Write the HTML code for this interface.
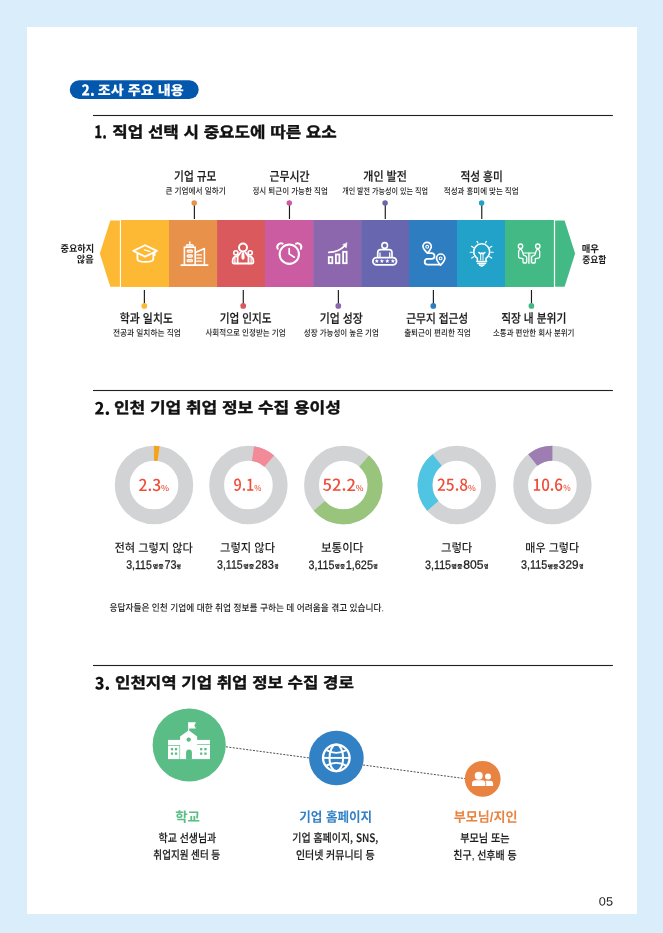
<!DOCTYPE html>
<html lang="ko"><head><meta charset="utf-8"><title>2. 조사 주요 내용</title>
<style>
html,body{margin:0;padding:0;background:#d9edfa}
#pg{position:relative;width:663px;height:933px;overflow:hidden;background:#d9edfa}
#pg svg{position:absolute;left:0;top:0;display:block}
.t{position:absolute;left:0;top:0;white-space:nowrap;transform-origin:0 0;letter-spacing:0}
.k{font-family:"Liberation Sans","Noto Sans CJK KR",sans-serif}
.n{font-family:"Noto Sans CJK KR",sans-serif}
</style></head><body><div id="pg">
<svg width="663" height="933" viewBox="0 0 663 933">
<rect x="0" y="0" width="663" height="933" fill="#d9edfa"/>
<rect x="27" y="27" width="610" height="887" fill="#ffffff"/>
<rect x="69.8" y="80.3" width="128.9" height="18.75" rx="9.375" fill="#0358ae"/>
<rect x="93" y="114.95" width="519.9" height="1.1" fill="#231f20"/>
<rect x="93" y="389.95" width="519.9" height="1.1" fill="#231f20"/>
<rect x="93" y="664.95" width="519.9" height="1.1" fill="#231f20"/>
<rect x="121.00" y="220.0" width="48.30" height="67.00" fill="#fdb933"/>
<rect x="169.00" y="220.0" width="48.35" height="67.00" fill="#e8914a"/>
<rect x="217.05" y="220.0" width="48.25" height="67.00" fill="#da595c"/>
<rect x="265.00" y="220.0" width="48.40" height="67.00" fill="#cb5ca1"/>
<rect x="313.10" y="220.0" width="48.30" height="67.00" fill="#8d67ad"/>
<rect x="361.10" y="220.0" width="48.20" height="67.00" fill="#6766ae"/>
<rect x="409.00" y="220.0" width="48.30" height="67.00" fill="#2d7dc0"/>
<rect x="457.00" y="220.0" width="48.30" height="67.00" fill="#22a2c9"/>
<rect x="505.00" y="220.0" width="48.90" height="67.00" fill="#43ba85"/>
<polygon points="119.9,220.4 110.3,220.4 99.8,253.5 110.3,286.7 119.9,286.7" fill="#fdb933"/>
<polygon points="555.1,220.4 564.6,220.4 575.1,253.5 564.6,286.7 555.1,286.7" fill="#43ba85"/>
<rect x="193.80" y="204" width="1.15" height="15" fill="#1a1a1a"/><circle cx="194.20" cy="203.0" r="2.75" fill="#e8914a"/>
<rect x="288.90" y="204" width="1.15" height="15" fill="#1a1a1a"/><circle cx="289.30" cy="203.0" r="2.75" fill="#cb5ca1"/>
<rect x="384.70" y="204" width="1.15" height="15" fill="#1a1a1a"/><circle cx="385.10" cy="203.0" r="2.75" fill="#6766ae"/>
<rect x="481.20" y="204" width="1.15" height="15" fill="#1a1a1a"/><circle cx="481.60" cy="203.0" r="2.75" fill="#22a2c9"/>
<rect x="143.80" y="290" width="1.15" height="14.5" fill="#1a1a1a"/><circle cx="144.3" cy="305.9" r="2.85" fill="#fdb933"/>
<rect x="242.70" y="290" width="1.15" height="14.5" fill="#1a1a1a"/><circle cx="243.2" cy="305.9" r="2.85" fill="#da595c"/>
<rect x="337.80" y="290" width="1.15" height="14.5" fill="#1a1a1a"/><circle cx="338.3" cy="305.9" r="2.85" fill="#8d67ad"/>
<rect x="432.80" y="290" width="1.15" height="14.5" fill="#1a1a1a"/><circle cx="433.3" cy="305.9" r="2.85" fill="#2d7dc0"/>
<rect x="530.90" y="290" width="1.15" height="14.5" fill="#1a1a1a"/><circle cx="531.4" cy="305.9" r="2.85" fill="#43ba85"/>
<g fill="none" stroke="#fff" stroke-width="1.8" stroke-linecap="round" stroke-linejoin="round">
<!-- 1 graduation cap -->
<path d="M145.1 245.2 L156.9 250.9 L145.1 256.6 L133.3 250.9 Z" stroke-width="1.8"/>
<path d="M137.4 253.6 V259 Q137.4 261.9 145.3 261.9 Q153.3 261.9 153.3 259 V253.6" stroke-width="1.8"/>
<path d="M144.4 249.8 L149.8 251.4" stroke-width="1.3"/>
<path d="M154.7 252.3 V255.6" stroke-width="1.5"/>
<!-- 2 building -->
<path d="M181.2 265.1 H207.7" stroke-width="1.7"/>
<path d="M184.4 264.6 V247.2 H195.2 V264.6" stroke-width="1.6" stroke-linejoin="miter"/>
<path d="M186.2 246.6 V245.4 Q186.2 244.6 187 244.6 H192.6 Q193.4 244.6 193.4 245.4 V246.6 Z" fill="#fff" fill-opacity="0.75" stroke-width="0.9"/>
<path d="M189.8 242 V244.6" stroke-width="1.5"/>
<path d="M196 252.3 L204.4 248.5 V264.6" stroke-width="1.5"/>
<g stroke-width="1.1" fill="#fff" fill-opacity="0.55"><rect x="187.1" y="250.1" width="5.4" height="2.2" rx="1.1"/><rect x="187.1" y="254.9" width="5.4" height="2.2" rx="1.1"/><rect x="187.1" y="259.6" width="5.4" height="2.2" rx="1.1"/></g>
<path d="M196.8 254.9 H201.4 M196.8 258.1 H201.4 M196.8 261.2 H201.4" stroke-width="1.3"/>
<!-- 3 people -->
<circle cx="243" cy="247.5" r="4" stroke-width="2"/>
<path d="M237.6 263.4 V256.6 L240.5 252.5 M245.5 252.5 L248.5 256.6 V263.4" stroke-width="1.8"/>
<path d="M242.1 252.4 H243.9 L244.5 258.1 L243 259.9 L241.5 258.1 Z" fill="#fff" stroke-width="0.4"/>
<circle cx="235.8" cy="252.8" r="2.1" stroke-width="1.6"/>
<circle cx="250.2" cy="252.8" r="2.1" stroke-width="1.6"/>
<path d="M237.2 256.2 Q232.6 256.6 232.6 261.4 V262.3 Q232.6 263.5 233.8 263.5 H252.2 Q253.4 263.5 253.4 262.3 V261.4 Q253.4 256.6 248.8 256.2" stroke-width="1.8"/>
<path d="M234.9 258.2 V263.2 M251.1 258.2 V263.2" stroke-width="1.2"/>
<!-- 4 clock -->
<circle cx="289.3" cy="254.2" r="9.65" stroke-width="2.1"/>
<path d="M289.2 248.5 V253.9 L294.3 257.2" stroke-width="1.7"/>
<path d="M277.7 248.8 A3.8 3.8 0 0 1 282.6 243.6" stroke-width="2"/>
<path d="M300.9 248.8 A3.8 3.8 0 0 0 296 243.6" stroke-width="2"/>
<!-- 5 chart -->
<g stroke-width="1.8" stroke-linejoin="miter">
<rect x="328.8" y="257.1" width="3.5" height="6.1"/>
<rect x="335.9" y="254.5" width="3.5" height="8.7"/>
<rect x="343.1" y="251.8" width="3.5" height="11.4"/>
</g>
<path d="M328.8 252.4 Q339 251.8 344.6 245.8" stroke-width="1.8"/>
<path d="M347 242.9 L346.3 247.9 L342.9 244.8 Z" fill="#fff" stroke-width="0.5"/>
<!-- 6 person with stars -->
<circle cx="384.7" cy="245.4" r="2.8" stroke-width="1.6"/>
<path d="M377.7 256.6 V252.7 Q377.7 249.7 380.7 249.7 H389 Q392 249.7 392 252.7 V256.6" stroke-width="1.7"/>
<path d="M380 253 V256.6 M389.7 253 V256.6" stroke-width="1.3"/>
<rect x="372.9" y="257.6" width="23.6" height="7.2" rx="3.6" stroke-width="1.8"/>
<g fill="#fff" stroke="none">
<path d="M376.8 258.9 L377.4 260.3 L378.9 260.4 L377.7 261.4 L378.1 262.9 L376.8 262.1 L375.5 262.9 L375.9 261.4 L374.7 260.4 L376.2 260.3 Z"/>
<path d="M381.9 258.9 L382.5 260.3 L384.0 260.4 L382.8 261.4 L383.2 262.9 L381.9 262.1 L380.6 262.9 L381.0 261.4 L379.8 260.4 L381.3 260.3 Z"/>
<path d="M387.3 258.9 L387.9 260.3 L389.4 260.4 L388.2 261.4 L388.6 262.9 L387.3 262.1 L386.0 262.9 L386.4 261.4 L385.2 260.4 L386.7 260.3 Z"/>
<path d="M392.9 258.9 L393.5 260.3 L395.0 260.4 L393.8 261.4 L394.2 262.9 L392.9 262.1 L391.6 262.9 L392.0 261.4 L390.8 260.4 L392.3 260.3 Z"/>
</g>
<!-- 7 route -->
<path d="M427.4 253.2 C425 250.4 422.9 248.9 422.9 246.6 A4.2 4.2 0 0 1 431.3 246.6 C431.3 248.9 429.8 250.4 427.4 253.2 Z" stroke-width="1.7"/>
<circle cx="427.2" cy="246.8" r="1.4" stroke-width="1.1"/>
<path d="M440.6 265.2 C438.2 262.4 436.5 260.5 436.5 258.2 A4.2 4.2 0 0 1 444.9 258.2 C444.9 260.5 443 262.4 440.6 265.2 Z" stroke-width="1.7"/>
<circle cx="440.6" cy="258.4" r="1.4" stroke-width="1.1"/>
<path d="M428 253.1 H431.6 A2.9 2.9 0 0 1 431.6 258.9 H427.6 A2.9 2.9 0 0 0 427.6 264.7 H439.8" stroke-width="1.8"/>
<!-- 8 bulb -->
<path d="M477.4 260.5 V258.3 A7.9 7.9 0 1 1 486 258.3 V260.5" stroke-width="1.6"/>
<path d="M476.8 261.5 H486.6 M477.8 263.6 H485.6" stroke-width="1.5"/>
<path d="M479.2 265.2 Q481.7 267.6 484.2 265.2 Z" fill="#fff" stroke-width="1"/>
<path d="M480.7 260 V253.8 M483 260 V253.8" stroke-width="1"/>
<path d="M478.8 252.4 L480.6 253.9 L481.8 252.9 L483.1 253.9 L484.9 252.4" stroke-width="1.4"/>
<path d="M477 241.4 L477.9 243 M486.4 241.4 L485.5 243 M471.5 246.3 L473.5 247.6 M491.9 246.3 L489.9 247.6 M470.2 252.2 H472.4 M493.2 252.2 H491 M471.7 258.1 L473.8 256.7 M491.7 258.1 L489.6 256.7" stroke-width="1.15"/>
<!-- 9 meeting -->
<circle cx="520.5" cy="246.2" r="2.2" stroke-width="1.3"/>
<circle cx="537.8" cy="246.2" r="2.2" stroke-width="1.3"/>
<path d="M520.2 249.4 Q518.6 250 518.6 251.8 V256.8 Q518.6 257.9 519.8 258.1 L523 258.7 V262 Q523 263 524 263 H525.7 Q526.7 263 526.7 262 V257.6 Q526.7 256.6 525.8 256.2 L523.5 255 L521.9 250.4 Q521.4 249.2 520.2 249.4 Z" stroke-width="1.3"/>
<path d="M538.1 249.4 Q539.7 250 539.7 251.8 V256.8 Q539.7 257.9 538.5 258.1 L535.3 258.7 V262 Q535.3 263 534.3 263 H532.6 Q531.6 263 531.6 262 V257.6 Q531.6 256.6 532.5 256.2 L534.8 255 L536.4 250.4 Q536.9 249.2 538.1 249.4 Z" stroke-width="1.3"/>
<path d="M523.6 253 H534.7" stroke-width="1.1"/>
<path d="M528.5 253.2 V263.4 M529.8 253.2 V263.4" stroke-width="0.8"/>
</g>

<circle cx="154.0" cy="485.0" r="31.775000000000002" fill="none" stroke="#d1d3d4" stroke-width="14.850000000000001"/>
<path d="M154.00 453.23 A31.775000000000002 31.775000000000002 0 0 1 158.58 453.56" fill="none" stroke="#f7a21b" stroke-width="14.850000000000001"/>
<circle cx="248.4" cy="485.0" r="31.775000000000002" fill="none" stroke="#d1d3d4" stroke-width="14.850000000000001"/>
<path d="M252.98 453.56 A31.775000000000002 31.775000000000002 0 0 1 269.26 461.03" fill="none" stroke="#f38a98" stroke-width="14.850000000000001"/>
<circle cx="343.3" cy="485.0" r="31.775000000000002" fill="none" stroke="#d1d3d4" stroke-width="14.850000000000001"/>
<path d="M364.16 461.03 A31.775000000000002 31.775000000000002 0 1 1 319.33 505.86" fill="none" stroke="#99c47c" stroke-width="14.850000000000001"/>
<circle cx="456.8" cy="485.0" r="31.775000000000002" fill="none" stroke="#d1d3d4" stroke-width="14.850000000000001"/>
<path d="M432.83 505.86 A31.775000000000002 31.775000000000002 0 0 1 437.17 460.02" fill="none" stroke="#4fc5e3" stroke-width="14.850000000000001"/>
<circle cx="552.4" cy="485.0" r="31.775000000000002" fill="none" stroke="#d1d3d4" stroke-width="14.850000000000001"/>
<path d="M532.77 460.02 A31.775000000000002 31.775000000000002 0 0 1 552.40 453.23" fill="none" stroke="#9e7db2" stroke-width="14.850000000000001"/>
<line x1="226" y1="746.8" x2="309" y2="757.9" stroke="#222" stroke-width="0.8" stroke-dasharray="2 1.4"/>
<line x1="363.1" y1="765" x2="465" y2="778.6" stroke="#222" stroke-width="0.8" stroke-dasharray="2 1.4"/>
<circle cx="189.2" cy="745.0" r="36.6" fill="#5abd86"/>
<circle cx="336.4" cy="758.0" r="27.3" fill="#3381c5"/>
<circle cx="482.7" cy="778.9" r="17.9" fill="#e98341"/>
<g fill="#fff">
<!-- school -->
<rect x="168" y="739.9" width="42" height="19.2"/>
<path d="M180.1 759.1 V736.4 L188.7 730.3 L197.1 736.4 V759.1 Z"/>
<rect x="188.2" y="722.2" width="1" height="9"/>
<path d="M188.6 722.2 H196 L194.3 725.4 L196 728.6 H188.6 Z"/>
<g fill="#5abd86">
<circle cx="188.7" cy="739.6" r="2.2"/>
<path d="M186.1 759.2 V752.4 A2.9 2.9 0 0 1 191.9 752.4 V759.2 Z"/>
<rect x="168" y="745" width="12" height="0.7"/>
<rect x="197.1" y="744.2" width="13" height="0.7"/>
<rect x="179.5" y="745" width="0.6" height="14.2"/>
<rect x="170.9" y="748" width="2.2" height="2.3"/><rect x="174.9" y="748" width="2.3" height="2.3"/>
<rect x="170.9" y="752.5" width="2.2" height="2.3"/><rect x="174.9" y="752.5" width="2.3" height="2.3"/>
<rect x="200.1" y="748" width="2.2" height="2.3"/><rect x="204.3" y="748" width="2.3" height="2.3"/>
<rect x="200.1" y="752.5" width="2.2" height="2.3"/><rect x="204.3" y="752.5" width="2.3" height="2.3"/>
</g>
<!-- parents -->
<circle cx="478.7" cy="775.8" r="4"/>
<path d="M472 785.9 V783.6 Q472 780.2 475.6 780.2 H481.9 Q485.4 780.2 485.4 783.6 V785.9 Z"/>
<circle cx="488" cy="776.4" r="3"/>
<path d="M486.2 785.9 V783.2 Q486.1 781.6 485.2 780.8 H490.2 Q493.1 780.8 493.1 783.8 V785.9 Z"/>
</g>
<!-- globe -->
<g fill="none" stroke="#fff">
<circle cx="336.3" cy="757.9" r="13.3" stroke-width="2.3"/>
<ellipse cx="336.3" cy="757.9" rx="6.8" ry="13.3" stroke-width="2"/>
<path d="M323 757.9 H349.6" stroke-width="1.9"/>
<path d="M326.4 750.2 Q336.3 755.6 346.2 750.2" stroke-width="1.9"/>
<path d="M326.4 765.6 Q336.3 760.2 346.2 765.6" stroke-width="1.9"/>
</g>

</svg>
<div class="t n" style="font-weight:900;font-size:14.80px;line-height:14.80px;color:#fff;transform:translate(81.54px,82.46px) scaleX(0.9298) rotate(0.04deg)">2.</div>
<div class="t k" style="font-weight:900;font-size:13.30px;line-height:13.30px;color:#fff;transform:translate(97.88px,83.90px) scaleX(1.0618) rotate(0.04deg)">조사 주요 내용</div>
<div class="t n" style="font-weight:900;font-size:17.60px;line-height:17.60px;color:#111;transform:translate(94.32px,122.36px) scaleX(0.7479) rotate(0.04deg)">1.</div>
<div class="t k" style="font-weight:700;font-size:15.50px;line-height:15.50px;color:#111;-webkit-text-stroke:0.40px #111;transform:translate(112.32px,124.60px) scaleX(1.0844) rotate(0.04deg)">직업 선택 시 중요도에 따른 요소</div>
<div class="t n" style="font-weight:900;font-size:16.80px;line-height:16.80px;color:#111;transform:translate(94.61px,399.44px) scaleX(0.9738) rotate(0.04deg)">2.</div>
<div class="t k" style="font-weight:700;font-size:15.50px;line-height:15.50px;color:#111;-webkit-text-stroke:0.40px #111;transform:translate(113.95px,400.14px) scaleX(1.0965) rotate(0.04deg)">인천 기업 취업 정보 수집 용이성</div>
<div class="t n" style="font-weight:900;font-size:16.80px;line-height:16.80px;color:#111;transform:translate(94.81px,674.53px) scaleX(0.9608) rotate(0.04deg)">3.</div>
<div class="t k" style="font-weight:700;font-size:15.50px;line-height:15.50px;color:#111;-webkit-text-stroke:0.40px #111;transform:translate(115.04px,675.16px) scaleX(1.0795) rotate(0.04deg)">인천지역 기업 취업 정보 수집 경로</div>
<div class="t k" style="font-weight:700;font-size:9.80px;line-height:9.80px;color:#1d1d1f;transform:translate(60.53px,243.89px) scaleX(0.9341) rotate(0.04deg)">중요하지</div>
<div class="t k" style="font-weight:700;font-size:9.80px;line-height:9.80px;color:#1d1d1f;transform:translate(76.71px,254.83px) scaleX(0.9356) rotate(0.04deg)">않음</div>
<div class="t k" style="font-weight:700;font-size:9.80px;line-height:9.80px;color:#1d1d1f;transform:translate(581.71px,244.27px) scaleX(0.9543) rotate(0.04deg)">매우</div>
<div class="t k" style="font-weight:700;font-size:9.80px;line-height:9.80px;color:#1d1d1f;transform:translate(582.14px,255.21px) scaleX(0.8926) rotate(0.04deg)">중요함</div>
<div class="t k" style="font-weight:500;font-size:12.50px;line-height:12.50px;color:#1d1d1f;-webkit-text-stroke:0.20px #1d1d1f;transform:translate(174.11px,170.82px) scaleX(0.8553) rotate(0.04deg)">기업 규모</div>
<div class="t k" style="font-weight:500;font-size:8.60px;line-height:8.60px;color:#1d1d1f;transform:translate(165.49px,186.97px) scaleX(0.8839) rotate(0.04deg)">큰 기업에서 일하기</div>
<div class="t k" style="font-weight:500;font-size:12.50px;line-height:12.50px;color:#1d1d1f;-webkit-text-stroke:0.20px #1d1d1f;transform:translate(269.51px,170.86px) scaleX(0.8701) rotate(0.04deg)">근무시간</div>
<div class="t k" style="font-weight:500;font-size:8.60px;line-height:8.60px;color:#1d1d1f;transform:translate(252.43px,187.11px) scaleX(0.8749) rotate(0.04deg)">정시 퇴근이 가능한 직업</div>
<div class="t k" style="font-weight:500;font-size:12.50px;line-height:12.50px;color:#1d1d1f;-webkit-text-stroke:0.20px #1d1d1f;transform:translate(363.25px,170.78px) scaleX(0.8832) rotate(0.04deg)">개인 발전</div>
<div class="t k" style="font-weight:500;font-size:8.60px;line-height:8.60px;color:#1d1d1f;transform:translate(342.15px,187.11px) scaleX(0.8218) rotate(0.04deg)">개인 발전 가능성이 있는 직업</div>
<div class="t k" style="font-weight:500;font-size:12.50px;line-height:12.50px;color:#1d1d1f;-webkit-text-stroke:0.20px #1d1d1f;transform:translate(460.51px,170.88px) scaleX(0.8533) rotate(0.04deg)">적성 흥미</div>
<div class="t k" style="font-weight:500;font-size:8.60px;line-height:8.60px;color:#1d1d1f;transform:translate(443.85px,187.16px) scaleX(0.8659) rotate(0.04deg)">적성과 흥미에 맞는 직업</div>
<div class="t k" style="font-weight:500;font-size:12.50px;line-height:12.50px;color:#1d1d1f;-webkit-text-stroke:0.20px #1d1d1f;transform:translate(119.82px,312.86px) scaleX(0.8709) rotate(0.04deg)">학과 일치도</div>
<div class="t k" style="font-weight:500;font-size:8.60px;line-height:8.60px;color:#1d1d1f;transform:translate(112.88px,329.00px) scaleX(0.8950) rotate(0.04deg)">전공과 일치하는 직업</div>
<div class="t k" style="font-weight:500;font-size:12.50px;line-height:12.50px;color:#1d1d1f;-webkit-text-stroke:0.20px #1d1d1f;transform:translate(219.66px,312.84px) scaleX(0.8500) rotate(0.04deg)">기업 인지도</div>
<div class="t k" style="font-weight:500;font-size:8.60px;line-height:8.60px;color:#1d1d1f;transform:translate(205.40px,328.84px) scaleX(0.8745) rotate(0.04deg)">사회적으로 인정받는 기업</div>
<div class="t k" style="font-weight:500;font-size:12.50px;line-height:12.50px;color:#1d1d1f;-webkit-text-stroke:0.20px #1d1d1f;transform:translate(319.64px,312.87px) scaleX(0.8722) rotate(0.04deg)">기업 성장</div>
<div class="t k" style="font-weight:500;font-size:8.60px;line-height:8.60px;color:#1d1d1f;transform:translate(303.78px,328.99px) scaleX(0.8711) rotate(0.04deg)">성장 가능성이 높은 기업</div>
<div class="t k" style="font-weight:500;font-size:12.50px;line-height:12.50px;color:#1d1d1f;-webkit-text-stroke:0.20px #1d1d1f;transform:translate(406.23px,312.99px) scaleX(0.8551) rotate(0.04deg)">근무지 접근성</div>
<div class="t k" style="font-weight:500;font-size:8.60px;line-height:8.60px;color:#1d1d1f;transform:translate(404.13px,328.97px) scaleX(0.8783) rotate(0.04deg)">출퇴근이 편리한 직업</div>
<div class="t k" style="font-weight:500;font-size:12.50px;line-height:12.50px;color:#1d1d1f;-webkit-text-stroke:0.20px #1d1d1f;transform:translate(501.15px,312.77px) scaleX(0.8577) rotate(0.04deg)">직장 내 분위기</div>
<div class="t k" style="font-weight:500;font-size:8.60px;line-height:8.60px;color:#1d1d1f;transform:translate(492.97px,328.90px) scaleX(0.8658) rotate(0.04deg)">소통과 편안한 회사 분위기</div>
<div class="t k" style="font-weight:500;font-size:12.00px;line-height:12.00px;color:#1d1d1f;transform:translate(114.40px,542.11px) scaleX(0.9344) rotate(0.04deg)">전혀 그렇지 않다</div>
<div class="t k" style="font-weight:500;font-size:12.00px;line-height:12.00px;color:#1d1d1f;transform:translate(220.00px,542.07px) scaleX(0.9406) rotate(0.04deg)">그렇지 않다</div>
<div class="t k" style="font-weight:500;font-size:12.00px;line-height:12.00px;color:#1d1d1f;transform:translate(320.95px,541.97px) scaleX(0.9628) rotate(0.04deg)">보통이다</div>
<div class="t k" style="font-weight:500;font-size:12.00px;line-height:12.00px;color:#1d1d1f;transform:translate(440.93px,541.99px) scaleX(0.9486) rotate(0.04deg)">그렇다</div>
<div class="t k" style="font-weight:500;font-size:12.00px;line-height:12.00px;color:#1d1d1f;transform:translate(525.35px,542.00px) scaleX(0.9197) rotate(0.04deg)">매우 그렇다</div>
<div class="t k" style="font-weight:500;font-size:9.60px;line-height:9.60px;color:#1d1d1f;transform:translate(109.42px,603.08px) scaleX(0.9064) rotate(0.04deg)">응답자들은 인천 기업에 대한 취업 정보를 구하는 데 어려움을 겪고 있습니다.</div>
<div class="t k" style="font-weight:700;font-size:13.60px;line-height:13.60px;color:#5abd86;transform:translate(175.14px,810.79px) scaleX(0.9885) rotate(0.04deg)">학교</div>
<div class="t k" style="font-weight:700;font-size:13.60px;line-height:13.60px;color:#3381c5;transform:translate(299.31px,810.77px) scaleX(0.9248) rotate(0.04deg)">기업 홈페이지</div>
<div class="t k" style="font-weight:700;font-size:13.60px;line-height:13.60px;color:#e98341;transform:translate(453.77px,810.75px) scaleX(0.9599) rotate(0.04deg)">부모님/지인</div>
<div class="t k" style="font-weight:500;font-size:11.60px;line-height:11.60px;color:#1d1d1f;-webkit-text-stroke:0.15px #1d1d1f;transform:translate(158.62px,832.30px) scaleX(0.8574) rotate(0.04deg)">학교 선생님과</div>
<div class="t k" style="font-weight:500;font-size:11.60px;line-height:11.60px;color:#1d1d1f;-webkit-text-stroke:0.15px #1d1d1f;transform:translate(153.38px,849.05px) scaleX(0.8226) rotate(0.04deg)">취업지원 센터 등</div>
<div class="t n" style="font-weight:500;font-size:11.60px;line-height:11.60px;color:#1d1d1f;-webkit-text-stroke:0.15px #1d1d1f;transform:translate(292.31px,831.92px) scaleX(0.8597) rotate(0.04deg)">기업 홈페이지, SNS,</div>
<div class="t k" style="font-weight:500;font-size:11.60px;line-height:11.60px;color:#1d1d1f;-webkit-text-stroke:0.15px #1d1d1f;transform:translate(295.95px,849.21px) scaleX(0.8565) rotate(0.04deg)">인터넷 커뮤니티 등</div>
<div class="t k" style="font-weight:500;font-size:11.60px;line-height:11.60px;color:#1d1d1f;-webkit-text-stroke:0.15px #1d1d1f;transform:translate(460.23px,832.35px) scaleX(0.8726) rotate(0.04deg)">부모님 또는</div>
<div class="t k" style="font-weight:500;font-size:11.60px;line-height:11.60px;color:#1d1d1f;-webkit-text-stroke:0.15px #1d1d1f;transform:translate(453.36px,849.36px) scaleX(0.8584) rotate(0.04deg)">친구, 선후배 등</div>
<div class="t k" style="font-weight:400;font-size:12.00px;line-height:12.00px;color:#222;transform:translate(598.84px,895.43px) scaleX(1.0591) rotate(0.04deg)">05</div>
<div class="t n" style="font-weight:500;font-size:16.40px;line-height:16.40px;color:#ee4d37;transform:translate(138.59px,475.88px) scaleX(0.9576) rotate(0.04deg)">2.3</div>
<div class="t n" style="font-weight:500;font-size:8.00px;line-height:8.00px;color:#ee4d37;transform:translate(160.97px,483.96px) scaleX(1.0738) rotate(0.04deg)">%</div>
<div class="t n" style="font-weight:500;font-size:16.40px;line-height:16.40px;color:#ee4d37;transform:translate(233.44px,475.78px) scaleX(0.8836) rotate(0.04deg)">9.1</div>
<div class="t n" style="font-weight:500;font-size:8.00px;line-height:8.00px;color:#ee4d37;transform:translate(254.29px,483.94px) scaleX(0.9543) rotate(0.04deg)">%</div>
<div class="t n" style="font-weight:500;font-size:16.40px;line-height:16.40px;color:#ee4d37;transform:translate(322.60px,475.86px) scaleX(1.0086) rotate(0.04deg)">52.2</div>
<div class="t n" style="font-weight:500;font-size:8.00px;line-height:8.00px;color:#ee4d37;transform:translate(355.76px,484.01px) scaleX(1.0181) rotate(0.04deg)">%</div>
<div class="t n" style="font-weight:500;font-size:16.40px;line-height:16.40px;color:#ee4d37;transform:translate(437.00px,475.85px) scaleX(0.9450) rotate(0.04deg)">25.8</div>
<div class="t n" style="font-weight:500;font-size:8.00px;line-height:8.00px;color:#ee4d37;transform:translate(468.06px,483.91px) scaleX(1.0398) rotate(0.04deg)">%</div>
<div class="t n" style="font-weight:500;font-size:16.40px;line-height:16.40px;color:#ee4d37;transform:translate(532.51px,475.68px) scaleX(0.9253) rotate(0.04deg)">10.6</div>
<div class="t n" style="font-weight:500;font-size:8.00px;line-height:8.00px;color:#ee4d37;transform:translate(563.37px,483.79px) scaleX(0.9915) rotate(0.04deg)">%</div>
<div class="t k" style="font-weight:400;font-size:12.20px;line-height:12.20px;color:#1d1d1f;-webkit-text-stroke:0.25px #1d1d1f;transform:translate(126.18px,558.87px) scaleX(0.8655) rotate(0.04deg)">3,115</div>
<div class="t k" style="font-weight:900;font-size:5.50px;line-height:5.50px;color:#1d1d1f;transform:translate(152.84px,564.42px) scaleX(1.0847) rotate(0.04deg)">명중</div>
<div class="t k" style="font-weight:400;font-size:12.20px;line-height:12.20px;color:#1d1d1f;-webkit-text-stroke:0.25px #1d1d1f;transform:translate(164.42px,558.82px) scaleX(0.8833) rotate(0.04deg)">73</div>
<div class="t k" style="font-weight:900;font-size:5.50px;line-height:5.50px;color:#1d1d1f;transform:translate(176.54px,564.69px) scaleX(0.8799) rotate(0.04deg)">명</div>
<div class="t k" style="font-weight:400;font-size:12.20px;line-height:12.20px;color:#1d1d1f;-webkit-text-stroke:0.25px #1d1d1f;transform:translate(217.03px,558.83px) scaleX(0.8650) rotate(0.04deg)">3,115</div>
<div class="t k" style="font-weight:900;font-size:5.50px;line-height:5.50px;color:#1d1d1f;transform:translate(243.31px,564.58px) scaleX(1.0916) rotate(0.04deg)">명중</div>
<div class="t k" style="font-weight:400;font-size:12.20px;line-height:12.20px;color:#1d1d1f;-webkit-text-stroke:0.25px #1d1d1f;transform:translate(255.38px,558.65px) scaleX(0.9081) rotate(0.04deg)">283</div>
<div class="t k" style="font-weight:900;font-size:5.50px;line-height:5.50px;color:#1d1d1f;transform:translate(274.49px,564.38px) scaleX(0.8029) rotate(0.04deg)">명</div>
<div class="t k" style="font-weight:400;font-size:12.20px;line-height:12.20px;color:#1d1d1f;-webkit-text-stroke:0.25px #1d1d1f;transform:translate(308.45px,558.90px) scaleX(0.8768) rotate(0.04deg)">3,115</div>
<div class="t k" style="font-weight:900;font-size:5.50px;line-height:5.50px;color:#1d1d1f;transform:translate(334.79px,564.41px) scaleX(1.0201) rotate(0.04deg)">명중</div>
<div class="t k" style="font-weight:400;font-size:12.20px;line-height:12.20px;color:#1d1d1f;-webkit-text-stroke:0.25px #1d1d1f;transform:translate(345.70px,558.92px) scaleX(0.8946) rotate(0.04deg)">1,625</div>
<div class="t k" style="font-weight:900;font-size:5.50px;line-height:5.50px;color:#1d1d1f;transform:translate(373.33px,564.40px) scaleX(0.8997) rotate(0.04deg)">명</div>
<div class="t k" style="font-weight:400;font-size:12.20px;line-height:12.20px;color:#1d1d1f;-webkit-text-stroke:0.25px #1d1d1f;transform:translate(425.09px,558.95px) scaleX(0.8772) rotate(0.04deg)">3,115</div>
<div class="t k" style="font-weight:900;font-size:5.50px;line-height:5.50px;color:#1d1d1f;transform:translate(451.30px,564.62px) scaleX(1.1097) rotate(0.04deg)">명중</div>
<div class="t k" style="font-weight:400;font-size:12.20px;line-height:12.20px;color:#1d1d1f;-webkit-text-stroke:0.25px #1d1d1f;transform:translate(463.22px,558.68px) scaleX(0.9927) rotate(0.04deg)">805</div>
<div class="t k" style="font-weight:900;font-size:5.50px;line-height:5.50px;color:#1d1d1f;transform:translate(483.96px,564.47px) scaleX(0.8789) rotate(0.04deg)">명</div>
<div class="t k" style="font-weight:400;font-size:12.20px;line-height:12.20px;color:#1d1d1f;-webkit-text-stroke:0.25px #1d1d1f;transform:translate(521.03px,558.84px) scaleX(0.8825) rotate(0.04deg)">3,115</div>
<div class="t k" style="font-weight:900;font-size:5.50px;line-height:5.50px;color:#1d1d1f;transform:translate(547.55px,564.76px) scaleX(1.0951) rotate(0.04deg)">명중</div>
<div class="t k" style="font-weight:400;font-size:12.20px;line-height:12.20px;color:#1d1d1f;-webkit-text-stroke:0.25px #1d1d1f;transform:translate(558.87px,558.72px) scaleX(0.9613) rotate(0.04deg)">329</div>
<div class="t k" style="font-weight:900;font-size:5.50px;line-height:5.50px;color:#1d1d1f;transform:translate(579.20px,564.51px) scaleX(0.8416) rotate(0.04deg)">명</div>
</div></body></html>
